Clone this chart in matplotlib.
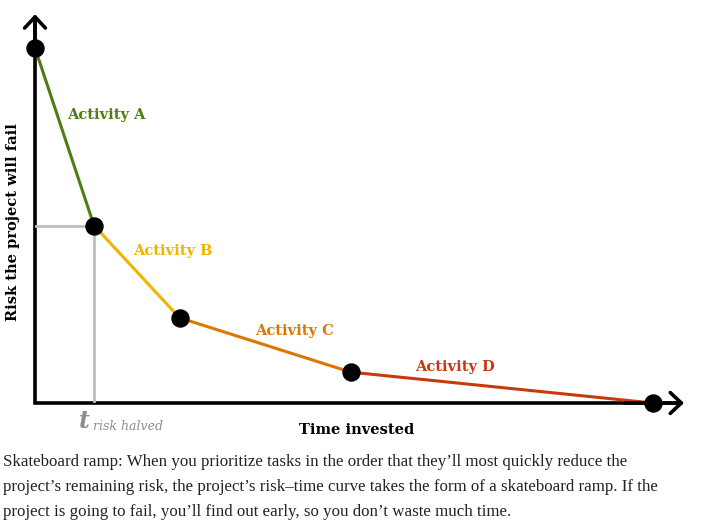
import matplotlib.pyplot as plt

# data
time = [0.0, 1.0, 2.45, 5.35, 10.47]
risk = [1.0, 0.5, 0.24, 0.087, 0.0]
activities = ["Activity A", "Activity B", "Activity C", "Activity D"]
colors = ["#4e7d12", "#f0b400", "#df7600", "#c53b0c"]
label_pos = [(0.54, 0.81), (1.66, 0.428), (3.73, 0.203), (6.44, 0.101)]

caption = ("Skateboard ramp: When you prioritize tasks in the order that they\u2019ll most quickly reduce the\n"
           "project\u2019s remaining risk, the project\u2019s risk\u2013time curve takes the form of a skateboard ramp. If the\n"
           "project is going to fail, you\u2019ll find out early, so you don\u2019t waste much time.")

SERIF = ["DejaVu Serif"]


def main():
    fig = plt.figure(figsize=(7.02, 5.30), dpi=100)
    ax = fig.add_axes([35 / 702, 127 / 530, 649 / 702, 390.5 / 530])
    ax.set_xlim(0, 11)
    ax.set_ylim(0, 1.1)
    ax.axis("off")

    # axes: L-shaped line with a square corner, plus open arrow heads
    ax.plot([0, 0, 10.9], [1.09, 0, 0], color="black", lw=2.6, solid_joinstyle="miter",
            solid_capstyle="butt", clip_on=False, zorder=1)
    arrow = dict(arrowstyle="->,head_length=0.8,head_width=0.75", color="black", lw=2.6,
                 shrinkA=0, shrinkB=0)
    ax.annotate("", xy=(11.0, 0), xytext=(10.0, 0), arrowprops=arrow, annotation_clip=False)
    ax.annotate("", xy=(0, 1.095), xytext=(0, 1.0), arrowprops=arrow, annotation_clip=False)

    # half-risk guide
    ax.plot([0, time[1], time[1]], [risk[1], risk[1], 0], color="#bdbdbd", lw=2, zorder=1)

    for i in range(len(activities)):
        ax.plot(time[i:i + 2], risk[i:i + 2], color=colors[i], lw=2.2, zorder=2)
        ax.text(label_pos[i][0], label_pos[i][1], activities[i], color=colors[i],
                fontsize=10.5, fontweight="bold", family=SERIF, va="center", ha="left")

    ax.scatter(time, risk, s=150, color="black", zorder=3, clip_on=False)

    fig.text(13 / 702, 1 - 222 / 530, "Risk the project will fail", rotation=90,
             fontsize=10.5, fontweight="bold", family=SERIF, ha="center", va="center")
    fig.text(357 / 702, 1 - 430 / 530, "Time invested", fontsize=10.5, fontweight="bold",
             family=SERIF, ha="center", va="center")
    fig.text(79 / 702, 1 - 421 / 530, "t", fontsize=17, fontweight="bold", style="italic",
             color="#8c8c8c", family=SERIF, ha="left", va="center")
    fig.text(93 / 702, 1 - 427 / 530, "risk halved", fontsize=9, style="italic",
             color="#8c8c8c", family=SERIF, ha="left", va="center")

    fig.text(3 / 702, 1 - 454 / 530, caption, fontsize=12.2, family=["Liberation Serif"],
             color="#222222", ha="left", va="top", linespacing=1.75)

    fig.savefig("out.png", dpi=100)


if __name__ == "__main__":
    main()
